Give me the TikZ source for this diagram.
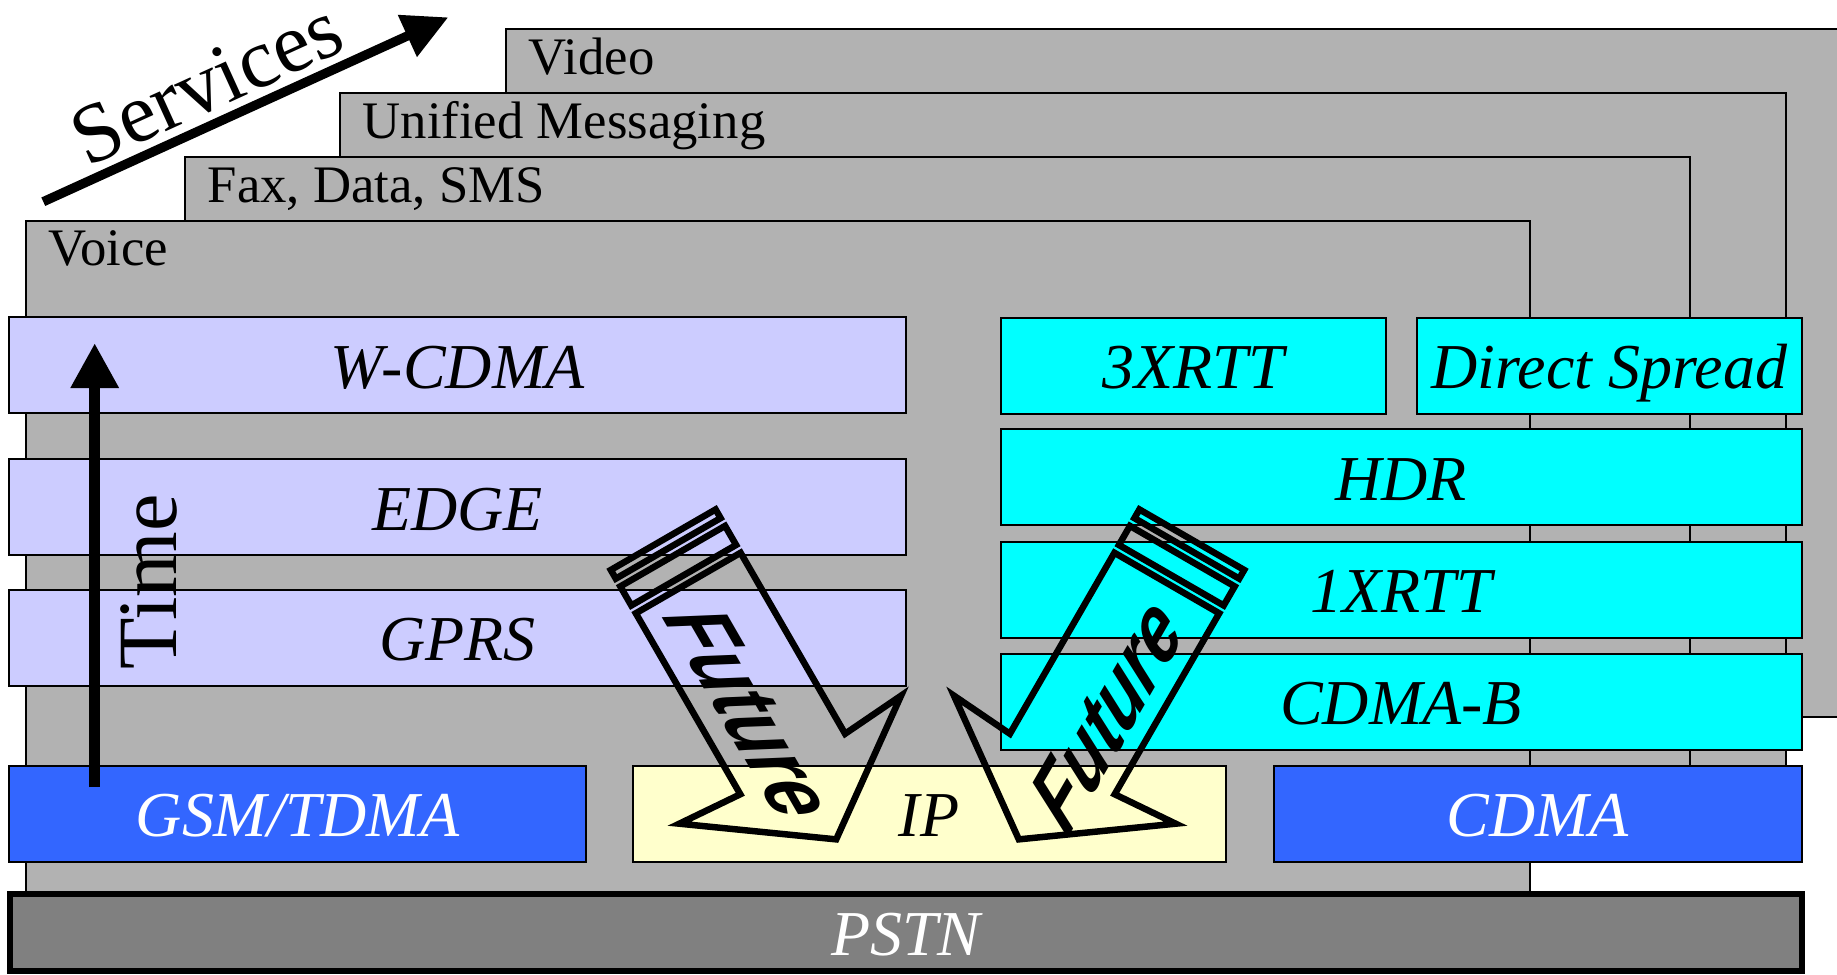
\documentclass[tikz,border=0pt]{standalone}
\usepackage{fontspec}
\setmainfont{Liberation Serif}
\newfontfamily\futurefont{Liberation Sans}
\usetikzlibrary{arrows.meta}
\definecolor{layergray}{HTML}{B2B2B2}
\definecolor{lavender}{HTML}{CCCCFF}
\definecolor{techcyan}{HTML}{00FFFF}
\definecolor{techblue}{HTML}{3366FF}
\definecolor{ipyellow}{HTML}{FFFFCC}
\definecolor{pstngray}{HTML}{808080}
\tikzset{
  layer/.style={draw=black, line width=0.2mm, fill=layergray},
  layerlabel/.style={anchor=base west, inner sep=0pt, font=\fontsize{15}{15}\selectfont},
  tech/.style={draw=black, line width=0.2mm, minimum height=9.6mm, inner sep=0pt,
    text height=4.6mm, text depth=0pt, font=\fontsize{18.2}{18.2}\selectfont\itshape},
  future/.style={draw=black, line width=0.65mm, line join=miter},
  futuretext/.style={xslant=0.35, xscale=0.9, inner sep=0pt,
    font=\futurefont\fontsize{24}{24}\selectfont\bfseries\itshape},
  bigtext/.style={anchor=base, inner sep=0pt, font=\fontsize{24}{24}\selectfont},
}
\begin{document}
\begin{tikzpicture}[x=0.1mm,y=-0.1mm]
\clip (0,0) rectangle (1837,974);   % page frame
% service layers, back to front
\draw[layer] (506,29.2) rectangle (1860,717.4);
\node[layerlabel] (video) at (528,74) {Video};
\draw[layer] (340,93.2) rectangle (1786,810);
\node[layerlabel] (unified) at (362,138) {Unified Messaging};
\draw[layer] (185,157.1) rectangle (1690,810);
\node[layerlabel] (fax) at (207,202) {Fax, Data, SMS};
\draw[layer] (25.7,220.5) rectangle (1530,893);
\node[layerlabel] (voice) at (48,265.5) {Voice};
% network base
\node[draw=black, line width=0.6mm, fill=pstngray, text=white, minimum width=179.24mm,
  minimum height=7.73mm, inner sep=0pt, text height=4.6mm, text depth=0pt,
  font=\fontsize{18.2}{18.2}\selectfont\itshape] (pstn) at (905.8,932.4) {PSTN};
% GSM path
\node[tech, fill=lavender, minimum width=89.67mm] (wcdma) at (457.7,365.3) {W-CDMA};
\node[tech, fill=lavender, minimum width=89.67mm] (edge) at (457.7,507.2) {EDGE};
\node[tech, fill=lavender, minimum width=89.67mm] (gprs) at (457.7,637.9) {GPRS};
\node[tech, fill=techblue, text=white, minimum width=57.64mm] (gsm) at (297.5,813.8) {GSM/TDMA};
\node[tech, fill=ipyellow, minimum width=59.28mm] (ip) at (929.1,813.7) {IP};
% CDMA path
\node[tech, fill=techcyan, minimum width=38.55mm] (xrtt3) at (1193.3,365.6) {3XRTT};
\node[tech, fill=techcyan, minimum width=38.45mm] (dspread) at (1609.3,365.6) {Direct Spread};
\node[tech, fill=techcyan, minimum width=80.1mm] (hdr) at (1401,477.2) {HDR};
\node[tech, fill=techcyan, minimum width=80.1mm] (xrtt1) at (1401,589.5) {1XRTT};
\node[tech, fill=techcyan, minimum width=80.1mm] (cdmab) at (1401,701.8) {CDMA-B};
\node[tech, fill=techblue, text=white, minimum width=52.8mm] (cdma) at (1537.5,813.7) {CDMA};
% time axis
\coordinate (t0) at (94.7,787);
\coordinate (t1) at (94.7,343);
\draw[line width=1.13mm, -{Triangle[length=4.5mm, width=4.53mm]}] (t0) -- (t1);
\node[bigtext, rotate=90] (time) at (176.7,582) {Time};
% services axis
\coordinate (s0) at (43.3,201.7);
\coordinate (s1) at (448.3,17.3);
\draw[line width=0.93mm, -{Triangle[length=4.5mm, width=4.37mm]}] (s0) -- (s1);
\node[bigtext, rotate=24.5] (services) at (218,108) {Services};
% left future arrow
\begin{scope}[shift={(688.2,583)}, rotate=-60]
\draw[future] (0,-60.5) -- (209,-60.5) -- (204,-128) -- (296,0) -- (204,128) -- (209,60.5) -- (0,60.5) -- cycle;
\draw[future] (-31,-60.5) rectangle (-9,60.5);
\draw[future] (-50,-60.5) rectangle (-40,60.5);
\node[rotate=-60, futuretext] (futureL) at (144,11) {Future};
\end{scope}
% right future arrow
\begin{scope}[shift={(1166.8,583)}, rotate=-120]
\draw[future] (0,-60.5) -- (209,-60.5) -- (204,-128) -- (296,0) -- (204,128) -- (209,60.5) -- (0,60.5) -- cycle;
\draw[future] (-31,-60.5) rectangle (-9,60.5);
\draw[future] (-50,-60.5) rectangle (-40,60.5);
\node[rotate=60, futuretext] (futureR) at (144,-14) {Future};
\end{scope}
\end{tikzpicture}
\end{document}
